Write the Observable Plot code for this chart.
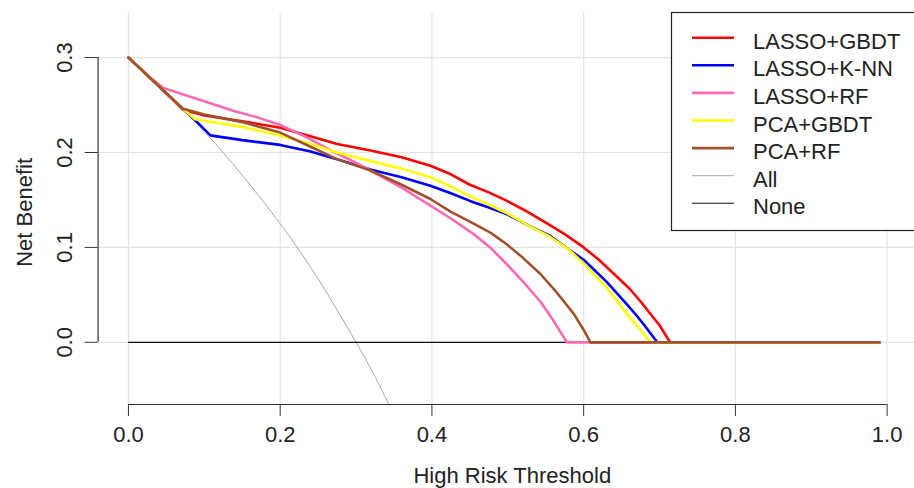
<!DOCTYPE html>
<html><head><meta charset="utf-8">
<script src="https://cdn.jsdelivr.net/npm/d3@7"></script>
<script src="https://cdn.jsdelivr.net/npm/@observablehq/plot@0.6"></script>
<style>
body{margin:0;background:#fff;overflow:hidden;font-family:"Liberation Sans",Arial,sans-serif;}
#wrap{position:relative;width:914px;height:488px;overflow:hidden;}
#wrap svg.legend{position:absolute;left:0;top:0;pointer-events:none;}
</style></head>
<body><div id="wrap"></div>
<script>
// ---- data (threshold, net benefit) ----
const seriesNames = ["LASSO+GBDT","LASSO+K-NN","LASSO+RF","PCA+GBDT","PCA+RF"];
const seriesColors = ["#FF0000","#0000FF","#FF69B4","#FFFF00","#A0522D"];
const lassoGbdt = [[0,0.300],[0.036,0.273],[0.072,0.245],[0.10,0.239],[0.15,0.233],[0.20,0.226],[0.24,0.217],[0.275,0.209],[0.319,0.202],[0.36,0.195],[0.398,0.186],[0.425,0.177],[0.45,0.166],[0.475,0.158],[0.499,0.149],[0.525,0.138],[0.55,0.126],[0.575,0.114],[0.60,0.100],[0.62,0.087],[0.64,0.072],[0.66,0.057],[0.675,0.043],[0.69,0.028],[0.70,0.018],[0.714,0],[0.99,0]];
const lassoKnn = [[0,0.300],[0.036,0.273],[0.072,0.246],[0.0905,0.232],[0.108,0.218],[0.15,0.213],[0.20,0.208],[0.24,0.201],[0.275,0.193],[0.319,0.182],[0.36,0.174],[0.398,0.165],[0.425,0.157],[0.45,0.149],[0.475,0.142],[0.499,0.135],[0.525,0.124],[0.556,0.112],[0.58,0.098],[0.60,0.087],[0.63,0.064],[0.657,0.040],[0.67,0.028],[0.68,0.018],[0.697,0],[0.99,0]];
const lassoRf = [[0,0.300],[0.023,0.283],[0.046,0.268],[0.10,0.254],[0.138,0.244],[0.17,0.237],[0.20,0.229],[0.235,0.216],[0.27,0.201],[0.295,0.191],[0.319,0.181],[0.36,0.163],[0.398,0.144],[0.424,0.131],[0.455,0.114],[0.478,0.099],[0.499,0.082],[0.52,0.064],[0.543,0.043],[0.56,0.023],[0.578,0],[0.99,0]];
const pcaGbdt = [[0,0.300],[0.036,0.273],[0.072,0.246],[0.088,0.235],[0.15,0.227],[0.20,0.218],[0.24,0.209],[0.275,0.200],[0.319,0.191],[0.36,0.183],[0.398,0.174],[0.425,0.164],[0.45,0.154],[0.475,0.145],[0.499,0.136],[0.525,0.124],[0.556,0.111],[0.58,0.098],[0.60,0.083],[0.63,0.058],[0.657,0.030],[0.675,0.013],[0.688,0],[0.99,0]];
const pcaRf = [[0,0.300],[0.036,0.273],[0.072,0.246],[0.10,0.240],[0.15,0.232],[0.20,0.221],[0.24,0.206],[0.275,0.193],[0.319,0.181],[0.36,0.166],[0.398,0.151],[0.424,0.138],[0.455,0.125],[0.478,0.115],[0.499,0.103],[0.52,0.089],[0.543,0.072],[0.565,0.052],[0.587,0.030],[0.60,0.013],[0.609,0],[0.99,0]];
const treatAll = [[0,0.300],[0.025,0.282],[0.05,0.263],[0.075,0.243],[0.10,0.222],[0.125,0.200],[0.15,0.176],[0.175,0.151],[0.20,0.125],[0.225,0.097],[0.25,0.067],[0.275,0.034],[0.30,0.000],[0.325,-0.036],[0.35,-0.077]];
const treatNone = [[0,0],[0.99,0]];
const refNames = ["All","None"];
const refColors = ["#A8A8A8","#111111"];
const xTicks = [0,0.2,0.4,0.6,0.8,1.0];
const yTicks = [0,0.1,0.2,0.3];
const xTitle = "High Risk Threshold";
const yTitle = "Net Benefit";

// ---- build ----
const seriesValues = [lassoGbdt,lassoKnn,lassoRf,pcaGbdt,pcaRf];
const rows = [];
seriesNames.forEach((name,i)=>seriesValues[i].forEach(([t,nb])=>rows.push({name,t,nb})));
const allRows = treatAll.map(([t,nb])=>({t,nb}));
const noneRows = treatNone.map(([t,nb])=>({t,nb}));
const yMin = -0.0655, yMax = 0.3478;
const fmt = d3.format(".1f");
const font = '"Liberation Sans", Arial, sans-serif';

const chart = Plot.plot({
  width: 914, height: 488,
  marginLeft: 97.6, marginRight: 0, marginTop: 11.7, marginBottom: 84,
  x: {domain: [-0.04, 1.04], range: [97.6, 917]},
  y: {domain: [yMin, yMax], range: [404, 11.7]},
  color: {domain: seriesNames, range: seriesColors},
  style: {fontFamily: font, fontSize: "22px", color: "#222", background: "white", overflow: "visible"},
  marks: [
    Plot.gridX(xTicks, {stroke: "#e4e4e4", strokeOpacity: 1, strokeWidth: 1.2}),
    Plot.gridY(yTicks, {stroke: "#e4e4e4", strokeOpacity: 1, strokeWidth: 1.2}),
    Plot.line(allRows, {x: "t", y: "nb", stroke: refColors[0], strokeWidth: 1, curve: "monotone-x", clip: true}),
    Plot.line(noneRows, {x: "t", y: "nb", stroke: refColors[1], strokeWidth: 1.1, clip: true}),
    Plot.line(rows, {x: "t", y: "nb", z: "name", stroke: "name", strokeWidth: 2.6, clip: true}),
    Plot.ruleY([yMin], {x1: 0, x2: 1, stroke: "#333", strokeWidth: 1.2}),
    Plot.ruleX([-0.04], {y1: 0, y2: 0.3, stroke: "#333", strokeWidth: 1.2}),
    Plot.axisX({ticks: xTicks, tickSize: 12, tickPadding: 10, tickFormat: fmt, label: null, fontSize: 22, stroke: "#333", fill: "#222"}),
    Plot.axisY({ticks: yTicks, tickSize: 13, tickFormat: () => "", label: null, stroke: "#333"}),
    Plot.text(yTicks, {frameAnchor: "left", y: d => d, text: d => fmt(d), rotate: -90, dx: -33, textAnchor: "middle", lineAnchor: "middle", fontSize: 22, fill: "#222"}),
    Plot.text([xTitle], {frameAnchor: "bottom", text: d => d, dx: 6, dy: 71, lineAnchor: "middle", fontSize: 22, fill: "#222"}),
    Plot.text([yTitle], {frameAnchor: "left", text: d => d, rotate: -90, dx: -73, dy: 4, textAnchor: "middle", lineAnchor: "middle", fontSize: 22, fill: "#222"})
  ]
});
const wrap = document.getElementById("wrap");
wrap.appendChild(chart);

// ---- legend (built from the same arrays) ----
const legNames = seriesNames.concat(refNames);
const legColors = seriesColors.concat(refColors);
const legWidths = seriesNames.map(()=>2.6).concat([1,1.1]);
const leg = d3.create("svg").attr("class","legend").attr("width",914).attr("height",488);
const bx = 671, by = 12, rowGap = 27.6, firstRow = 25.7;
leg.append("rect").attr("x",bx+0.5).attr("y",by+0.5).attr("width",260).attr("height",218)
  .attr("fill","white").attr("stroke","#222").attr("stroke-width",1.2);
legNames.forEach((n,i)=>{
  const yy = by + firstRow + rowGap*i;
  leg.append("line").attr("x1",692).attr("x2",734).attr("y1",yy).attr("y2",yy)
    .attr("stroke",legColors[i]).attr("stroke-width",legWidths[i]);
  leg.append("text").attr("x",753).attr("y",yy+11).text(n)
    .attr("font-family",font).attr("font-size",22).attr("fill","#222");
});
wrap.appendChild(leg.node());
</script>
</body></html>
